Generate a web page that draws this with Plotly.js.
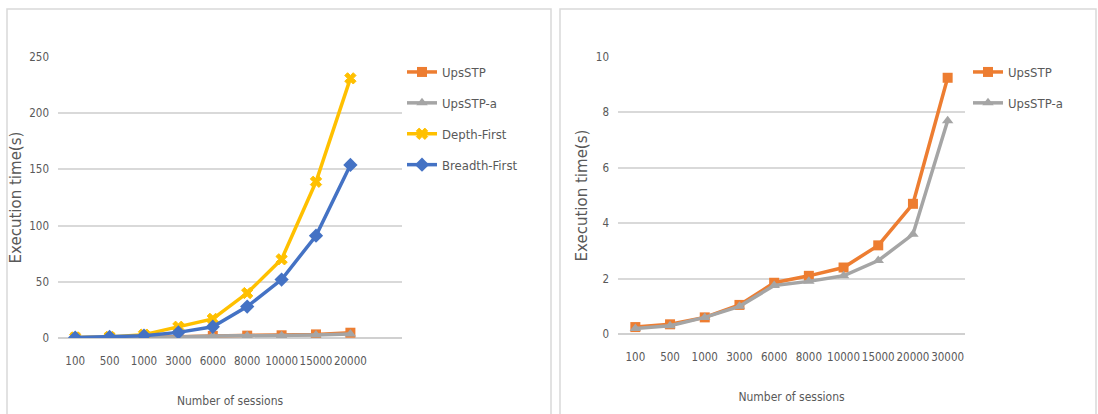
<!DOCTYPE html>
<html><head><meta charset="utf-8">
<script src="https://cdn.plot.ly/plotly-3.0.1.min.js"></script>
<style>html,body{margin:0;padding:0;background:#fff}#c{width:1098px;height:414px}</style>
</head><body><div id="c"></div>
<script>
const sessionsLeft = ["100","500","1000","3000","6000","8000","10000","15000","20000"];
const sessionsRight = ["100","500","1000","3000","6000","8000","10000","15000","20000","30000"];
const upsstpLeft = [0.25,0.35,0.6,1.05,1.85,2.1,2.4,3.2,4.7];
const upsstpALeft = [0.2,0.3,0.6,1.0,1.75,1.9,2.1,2.65,3.6];
const depthFirst = [0.5,1,3,10,17,40,70,139,231];
const breadthFirst = [0.4,1,2,5,10,28,52,91,154];
const upsstpRight = [0.25,0.35,0.6,1.05,1.85,2.1,2.4,3.2,4.7,9.25];
const upsstpARight = [0.2,0.3,0.6,1.0,1.75,1.9,2.1,2.65,3.6,7.7];

const W=1098,H=414;
const px=v=>v/W, py=v=>1-v/H;
const cond='"Liberation Sans Narrow","DejaVu Sans Condensed","Roboto",sans-serif';
const gray='#595959';

function tr(x,y,name,color,symbol,xa,ya,leg,size){
  return {x:x,y:y,name:name,type:'scatter',mode:'lines+markers',xaxis:xa,yaxis:ya,legend:leg,legendgroup:name+leg,
    line:{color:color,width:3.5},marker:{color:color,symbol:symbol,size:size||10,line:{color:color,width:symbol==='x'?1:0}}};
}
const data=[
  tr(sessionsLeft,upsstpLeft,'UpsSTP','#ED7D31','square','x','y','legend'),
  tr(sessionsLeft,upsstpALeft,'UpsSTP-a','#A5A5A5','triangle-up','x','y','legend'),
  tr(sessionsLeft,depthFirst,'Depth-First','#FFC000','x','x','y','legend',10),
  tr(sessionsLeft,breadthFirst,'Breadth-First','#4472C4','diamond','x','y','legend',11),
  tr(sessionsRight,upsstpRight,'UpsSTP','#ED7D31','square','x2','y2','legend2'),
  tr(sessionsRight,upsstpARight,'UpsSTP-a','#A5A5A5','triangle-up','x2','y2','legend2'),
];
const tickf={family:cond,size:11.5,color:gray};
const xaxBase={type:'category',showgrid:false,zeroline:false,showline:false,ticks:'',tickfont:tickf,tickangle:0,fixedrange:true,ticklabelstandoff:14,
  title:{text:'Number of sessions',font:{family:cond,size:12,color:gray},standoff:30}};
const yaxBase={showgrid:true,gridcolor:'#d9d9d9',gridwidth:2,zeroline:true,zerolinecolor:'#d0d0d0',zerolinewidth:2.5,showline:false,ticks:'',tickfont:tickf,ticklabelstandoff:8,
  title:{text:'Execution time(s)',font:{family:'DejaVu Sans, sans-serif',size:15,color:gray},standoff:4}};
const layout={
  width:W,height:H,margin:{l:0,r:0,t:0,b:0},paper_bgcolor:'#fff',plot_bgcolor:'#fff',
  xaxis:Object.assign({},xaxBase,{domain:[px(58),px(402)],anchor:'y',range:[-0.5,9.5]}),
  yaxis:Object.assign({},yaxBase,{domain:[py(338),py(57)],anchor:'x',range:[0,250],dtick:50}),
  xaxis2:Object.assign({},xaxBase,{domain:[px(618),px(965)],anchor:'y2',range:[-0.5,9.5]}),
  yaxis2:Object.assign({},yaxBase,{domain:[py(334),py(57)],anchor:'x2',range:[0,10],dtick:2}),
  legend:{x:px(402),y:py(57),xanchor:'left',yanchor:'top',font:{family:cond,size:13,color:gray},tracegroupgap:11,bgcolor:'rgba(0,0,0,0)'},
  legend2:{x:px(968),y:py(57),xanchor:'left',yanchor:'top',font:{family:cond,size:13,color:gray},tracegroupgap:11,bgcolor:'rgba(0,0,0,0)'},
  shapes:[
    {type:'rect',xref:'paper',yref:'paper',x0:px(7),x1:px(551),y0:-0.05,y1:py(9),line:{color:'#d9d9d9',width:1.5}},
    {type:'rect',xref:'paper',yref:'paper',x0:px(560),x1:px(1096),y0:-0.05,y1:py(9),line:{color:'#d9d9d9',width:1.5}}
  ],
  showlegend:true
};
Plotly.newPlot('c',data,layout,{displayModeBar:false,staticPlot:true});
</script></body></html>
